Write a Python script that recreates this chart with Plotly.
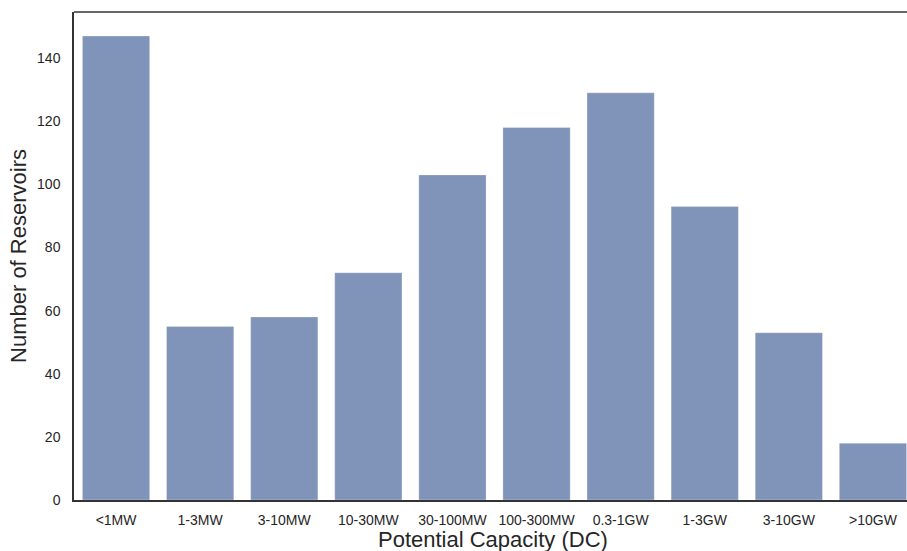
import plotly.graph_objects as go

categories = ["<1MW", "1-3MW", "3-10MW", "10-30MW", "30-100MW", "100-300MW",
              "0.3-1GW", "1-3GW", "3-10GW", ">10GW"]
counts = [147, 55, 58, 72, 103, 118, 129, 93, 53, 18]
y_ticks = [0, 20, 40, 60, 80, 100, 120, 140]

fig = go.Figure()
fig.add_trace(go.Bar(
    x=list(range(len(categories))), y=counts, width=0.8,
    marker=dict(color="rgb(128,147,184)", line=dict(color="rgba(255,255,255,0.6)", width=0.5)),
    showlegend=False,
))

axis_col = "#333333"
fig.update_layout(
    width=907, height=551,
    margin=dict(l=74, r=0, t=12, b=51),
    paper_bgcolor="white", plot_bgcolor="white",
    font=dict(family="Liberation Sans, Arial, sans-serif", color="#262626"),
    bargap=0.2,
    xaxis=dict(
        range=[-0.5, 9.405], tickmode="array",
        tickvals=list(range(len(categories))), ticktext=categories,
        tickfont=dict(size=14), ticks="", showgrid=False, zeroline=False,
        showline=True, linecolor=axis_col, linewidth=1.5, ticklabelstandoff=6,
        automargin=False,
    ),
    yaxis=dict(
        range=[0, 154.6], tickmode="array", tickvals=y_ticks,
        tickfont=dict(size=14), ticks="", showgrid=False, zeroline=False,
        showline=True, linecolor=axis_col, linewidth=1.5, ticklabelstandoff=9,
        title=dict(text="Number of Reservoirs", font=dict(size=22), standoff=4),
        automargin=False,
    ),
    shapes=[dict(type="line", xref="paper", yref="paper", x0=0, x1=1, y0=1, y1=1,
                 line=dict(color=axis_col, width=1.5))],
    annotations=[dict(text="Potential Capacity (DC)", xref="paper", yref="paper",
                      x=(493 - 74) / 833, y=(500 - 539) / 488,
                      xanchor="center", yanchor="middle", showarrow=False,
                      font=dict(size=22, color="#262626"))],
)

fig.write_html("out.html")
